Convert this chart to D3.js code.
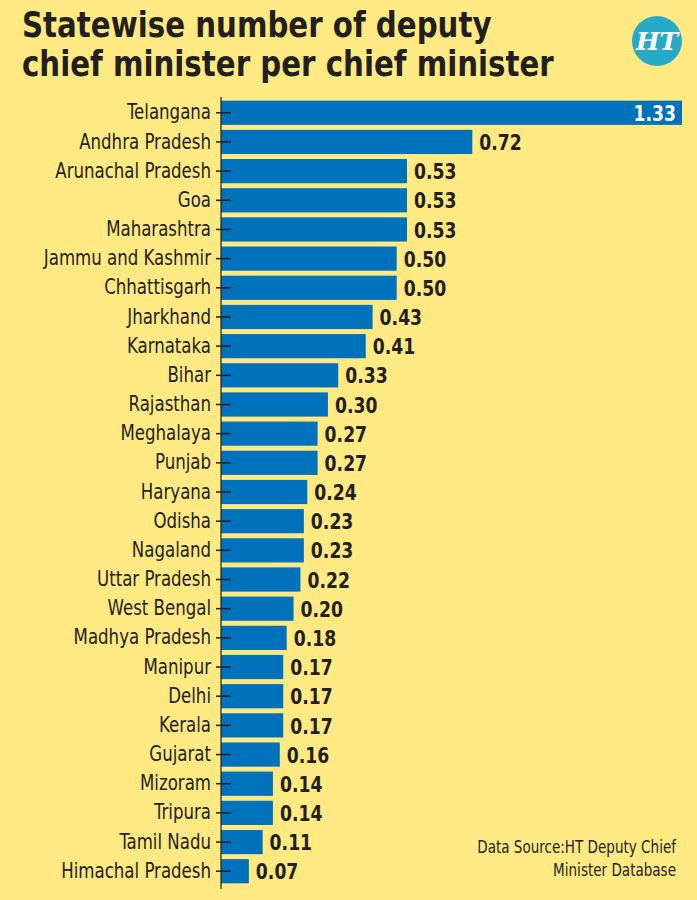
<!DOCTYPE html>
<html>
<head>
<meta charset="utf-8">
<script src="https://cdn.jsdelivr.net/npm/d3@7"></script>
<style>
  body { margin: 0; background: #fee983; }
  svg { display: block; }
  .lbl { font-family: 'DejaVu Sans Condensed', 'Liberation Sans Narrow', sans-serif; }
</style>
</head>
<body>
<div id="main"></div>
<script>
// dataset
const states = ['Telangana', 'Andhra Pradesh', 'Arunachal Pradesh', 'Goa', 'Maharashtra',
  'Jammu and Kashmir', 'Chhattisgarh', 'Jharkhand', 'Karnataka', 'Bihar', 'Rajasthan',
  'Meghalaya', 'Punjab', 'Haryana', 'Odisha', 'Nagaland', 'Uttar Pradesh', 'West Bengal',
  'Madhya Pradesh', 'Manipur', 'Delhi', 'Kerala', 'Gujarat', 'Mizoram', 'Tripura',
  'Tamil Nadu', 'Himachal Pradesh'];
const values = [1.33, 0.72, 0.53, 0.53, 0.53, 0.50, 0.50, 0.43, 0.41, 0.33, 0.30,
  0.27, 0.27, 0.24, 0.23, 0.23, 0.22, 0.20, 0.18, 0.17, 0.17, 0.17, 0.16, 0.14, 0.14,
  0.11, 0.07];
const titleLines = ['Statewise number of deputy', 'chief minister per chief minister'];
const sourceLines = ['Data Source:HT Deputy Chief', 'Minister Database'];

const data = states.map((s, i) => ({ state: s, value: values[i] }));

const W = 697, H = 900;
const dark = '#231f20';
const svg = d3.select('#main').append('svg')
  .attr('width', W)
  .attr('height', H);

svg.append('rect').attr('width', W).attr('height', H).attr('fill', '#fee983');

// condensed text: the installed fonts are wider than the original, so squeeze them
function squeezed(parent, x, y, sx) {
  return parent.append('g')
    .attr('transform', `translate(${x},${y}) scale(${sx},1)`)
    .append('text')
    .attr('class', 'lbl');
}

// title
titleLines.forEach((line, i) => {
  squeezed(svg, 22, 37 + i * 39, 0.93)
    .attr('font-size', 35)
    .attr('font-weight', 'bold')
    .attr('fill', dark)
    .text(line);
});

// HT logo
const logo = svg.append('g').attr('transform', 'translate(657,41)');
logo.append('circle').attr('r', 25).attr('fill', '#27aac8');
logo.append('text')
  .attr('text-anchor', 'middle')
  .attr('y', 9)
  .attr('font-family', 'DejaVu Serif, serif')
  .attr('font-weight', 'bold')
  .attr('font-style', 'italic')
  .attr('font-size', 25)
  .attr('fill', '#fff')
  .text('HT');

// scales
// the bars start at the axis line, the zero of the scale sits a few px to the right of it
const x0 = 221;
const xScale = d3.scaleLinear()
  .domain([0, 1.33])
  .range([224.8, 682]);

const yScale = d3.scaleBand()
  .domain(states)
  .range([96, 888])
  .paddingInner(0.17)
  .paddingOuter(0.16);

const chart = svg.append('g');

chart.selectAll('rect.bar')
  .data(data)
  .join('rect')
  .attr('class', 'bar')
  .attr('fill', '#0072bb')
  .attr('x', x0)
  .attr('y', d => yScale(d.state))
  .attr('width', d => xScale(d.value) - x0)
  .attr('height', yScale.bandwidth());

// axis
const labelSx = 0.9;
const yAxis = chart.append('g')
  .attr('transform', `translate(${x0},0)`)
  .call(d3.axisLeft(yScale).tickSizeOuter(0).tickSize(5).tickPadding(5));

yAxis.select('.domain')
  .attr('d', 'M0,97V889')
  .attr('stroke', dark)
  .attr('stroke-width', 1.2);
yAxis.selectAll('.tick line')
  .attr('x1', -5)
  .attr('x2', 10)
  .attr('stroke', dark)
  .attr('stroke-width', 1.5);
yAxis.selectAll('.tick text')
  .attr('class', 'lbl')
  .attr('font-size', 20.5)
  .attr('fill', dark)
  .attr('x', -10 / labelSx)
  .attr('transform', `scale(${labelSx},1)`);

// value labels
data.forEach((d, i) => {
  const inside = i === 0;
  squeezed(chart, inside ? xScale(d.value) - 6 : xScale(d.value) + 7,
      yScale(d.state) + yScale.bandwidth() / 2, 0.87)
    .attr('dy', '0.37em')
    .attr('text-anchor', inside ? 'end' : 'start')
    .attr('font-size', 22)
    .attr('font-weight', 'bold')
    .attr('fill', inside ? '#fff' : dark)
    .text(d.value.toFixed(2));
});

// source
sourceLines.forEach((line, i) => {
  squeezed(svg, 676, 853 + i * 23, 0.86)
    .attr('text-anchor', 'end')
    .attr('font-size', 17.5)
    .attr('fill', dark)
    .text(line);
});
</script>
</body>
</html>
